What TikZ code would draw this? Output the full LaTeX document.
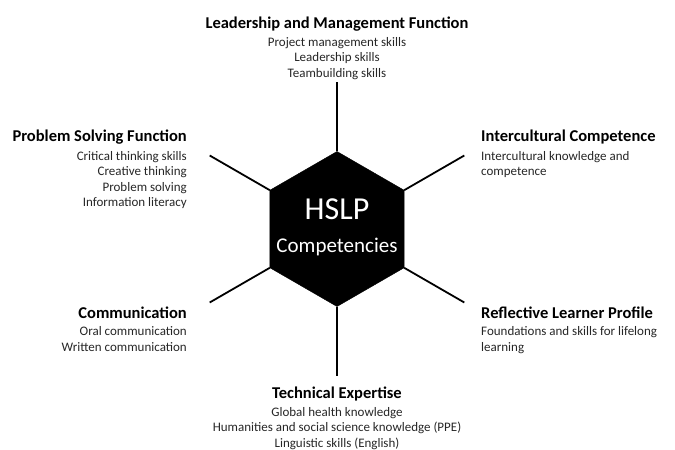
\documentclass[tikz,border=0pt]{standalone}
\usepackage{fontspec}
\setmainfont{Carlito}
\usetikzlibrary{shapes.geometric}
\usetikzlibrary{positioning}

\newcommand{\headfont}{\fontsize{16.5}{19}\selectfont\bfseries}
\newcommand{\listfont}{\fontsize{13}{15.5}\selectfont}

\tikzset{
  head/.style={font=\headfont, inner sep=0pt},
  list/.style={font=\listfont, inner sep=0pt, text=black!85},
  spoke/.style={line width=1.8pt},
}

\begin{document}
\begin{tikzpicture}[x=1pt,y=1pt]
    \useasboundingbox (0,0) rectangle (675,450);
    % Centre.
    \node[regular polygon, regular polygon sides=6, shape border rotate=30,
      minimum size=155pt, inner sep=0pt, outer sep=0pt, fill=black, draw=black] (hex) at (337,221) {};
    \node[text=white, font=\fontsize{32}{34}\selectfont, anchor=base] (hslp) at (337,230) {HSLP};
    \node[text=white, font=\fontsize{21}{23}\selectfont, anchor=base] (comp) at (337,197) {Competencies};
    % Spokes.
    \foreach \a/\n in {90/lead, 30/inter, 150/prob, 210/comm, 330/refl, 270/tech}
    {
      \path (hex.center) ++(\a:147) coordinate (\n-end);
      \draw[spoke] (hex.\a) -- (\n-end);
    }
    % Leadership and Management Function.
    \node[head, anchor=base] (leadT) at (337,421) {Leadership and Management Function};
    \node[list, align=center, below=5pt of leadT] (leadL)
      {Project management skills\\Leadership skills\\Teambuilding skills};
    % Problem Solving Function.
    \node[head, anchor=base east] (probT) at (187,308) {Problem Solving Function};
    \node[list, align=right, below=6pt of probT.south east, anchor=north east] (probL)
      {Critical thinking skills\\Creative thinking\\Problem solving\\Information literacy};
    % Intercultural Competence.
    \node[head, anchor=base west] (interT) at (481,308) {Intercultural Competence};
    \node[list, align=left, below=6pt of interT.south west, anchor=north west] (interL)
      {Intercultural knowledge and\\competence};
    % Communication.
    \node[head, anchor=base east] (commT) at (187,131) {Communication};
    \node[list, align=right, below=7pt of commT.south east, anchor=north east] (commL)
      {Oral communication\\Written communication};
    % Reflective Learner Profile.
    \node[head, anchor=base west] (reflT) at (481,131) {Reflective Learner Profile};
    \node[list, align=left, below=7pt of reflT.south west, anchor=north west] (reflL)
      {Foundations and skills for lifelong\\learning};
    % Technical Expertise.
    \node[head, anchor=base] (techT) at (337,51) {Technical Expertise};
    \node[list, align=center, below=5pt of techT] (techL)
      {Global health knowledge\\Humanities and social science knowledge (PPE)\\Linguistic skills (English)};
\end{tikzpicture}
\end{document}
